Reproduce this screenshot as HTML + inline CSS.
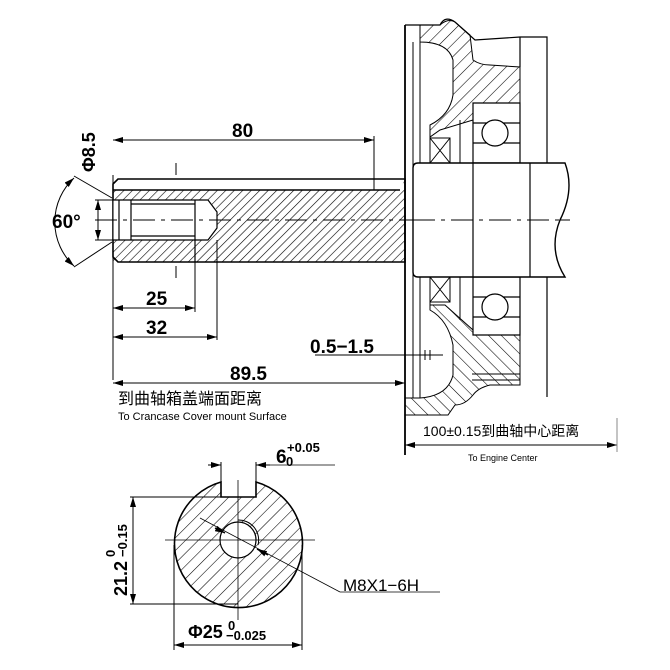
<!DOCTYPE html>
<html><head><meta charset="utf-8"><style>
html,body{margin:0;padding:0;background:#fff;}
svg{display:block;}
text{font-family:"Liberation Sans","Noto Sans CJK SC",sans-serif;fill:#000;}
</style></head><body>
<svg width="670" height="670" viewBox="0 0 670 670" xmlns="http://www.w3.org/2000/svg">
<defs>
<pattern id="h" width="6" height="6" patternUnits="userSpaceOnUse" patternTransform="rotate(45)">
<line x1="0" y1="0" x2="0" y2="6" stroke="#000" stroke-width="1.2"/></pattern>
<pattern id="h2" width="9" height="9" patternUnits="userSpaceOnUse" patternTransform="rotate(45)">
<line x1="0" y1="0" x2="0" y2="9" stroke="#000" stroke-width="1.1"/></pattern>
<pattern id="h3" width="9" height="9" patternUnits="userSpaceOnUse" patternTransform="rotate(-45)">
<line x1="0" y1="0" x2="0" y2="9" stroke="#000" stroke-width="1.1"/></pattern>
<marker id="a" viewBox="0 0 10 6" refX="10" refY="3" markerWidth="10" markerHeight="6" orient="auto-start-reverse" markerUnits="userSpaceOnUse"><path d="M0,0L10,3L0,6z" fill="#000"/></marker>
</defs>
<g stroke="#000" fill="none" stroke-width="1.2">
<path d="M118,179 L405,179 L405,262 L118,262 L113,257 L113,184 Z" fill="#fff" stroke-width="1.6"/>
<path d="M113,190 L400,190 L405,179 L405,262 L113,262 Z" fill="url(#h)" stroke="none"/>
<line x1="113" y1="190" x2="400" y2="190" stroke-width="1.4"/>
<path d="M113,200 L195,200 L195,240 L113,240 Z" fill="#fff" stroke="none"/>
<path d="M195,200 L208,200 L217,210 L217,230 L208,240 L195,240" fill="#fff" stroke="none"/>
<path d="M113,200 L208,200 L217,212 L217,228 L208,240 L113,240"/>
<path d="M119,200 V240 M131,200 V240 M131,204 H195 M131,236 H195 M195,200 V262"/>
<line x1="113" y1="175" x2="113" y2="380" stroke-width="1"/>
<line x1="95" y1="220" x2="570" y2="220" stroke-width="1" stroke-dasharray="22,6,4,6"/>
<line x1="176" y1="163" x2="176" y2="175" stroke-width="1"/>
<line x1="176" y1="266" x2="176" y2="278" stroke-width="1"/>
<line x1="113" y1="140" x2="374" y2="140" marker-start="url(#a)" marker-end="url(#a)" stroke-width="1"/>
<line x1="374" y1="136" x2="374" y2="190" stroke-width="1"/>
<line x1="195" y1="262" x2="195" y2="312" stroke-width="1"/>
<line x1="217" y1="240" x2="217" y2="340" stroke-width="1"/>
<line x1="113" y1="308" x2="195" y2="308" marker-start="url(#a)" marker-end="url(#a)" stroke-width="1"/>
<line x1="113" y1="337" x2="217" y2="337" marker-start="url(#a)" marker-end="url(#a)" stroke-width="1"/>
<line x1="113" y1="383" x2="405" y2="383" marker-start="url(#a)" marker-end="url(#a)" stroke-width="1"/>
<line x1="315" y1="355" x2="440" y2="355" stroke-width="1"/>
<line x1="98" y1="200" x2="98" y2="240" marker-start="url(#a)" marker-end="url(#a)" stroke-width="1"/>
<line x1="95" y1="200" x2="113" y2="200" stroke-width="1"/>
<line x1="95" y1="240" x2="113" y2="240" stroke-width="1"/>
<path d="M74,178 A60,60 0 0 0 74,266" marker-start="url(#a)" marker-end="url(#a)" stroke-width="1"/>
<line x1="74" y1="176" x2="112" y2="198" stroke-width="1"/>
<line x1="74" y1="267" x2="112" y2="242" stroke-width="1"/>
<line x1="405" y1="25" x2="405" y2="455" stroke-width="1.8"/>
<path d="M405,25 L440,25 Q445,15 455,22 L475,40 L520,37 L547,37 L547,180" />
<path d="M405,25 L440,25 Q448,18 455,22 L470,35 L473,60 Q480,65 490,65 L520,67 L520,103 L473,103 L473,120 L440,130 L430,137 L430,125 Q450,115 453,95 L453,60 Q448,42 420,42 L420,25 Z" fill="url(#h2)" stroke-width="1"/>
<path d="M405,398 L420,398 Q448,396 453,375 L453,345 Q448,320 430,310 L430,305 L445,305 L473,330 L473,335 L520,335 L520,385 L490,385 Q478,388 473,395 Q465,405 455,405 L448,415 L405,415 Z" fill="url(#h3)" stroke-width="1"/>
<path d="M420,42 V398 M430,125 V305 M413,42 V398" stroke-width="1"/>
<path d="M430,138 H450 V163 H430 Z M430,138 L450,163 M450,138 L430,163" stroke-width="1"/>
<path d="M430,277 H450 V302 H430 Z M430,277 L450,302 M450,277 L430,302" stroke-width="1"/>
<line x1="460" y1="120" x2="460" y2="163" stroke-width="1"/>
<line x1="460" y1="277" x2="460" y2="320" stroke-width="1"/>
<path d="M473,103 H520 V163 H473 Z M473,123 H520 M473,143 H520" fill="#fff"/>
<circle cx="495" cy="133" r="13" fill="#fff"/>
<path d="M473,277 H520 V335 H473 Z M473,297 H520 M473,317 H520" fill="#fff"/>
<circle cx="495" cy="307" r="13" fill="#fff"/>
<line x1="547" y1="277" x2="547" y2="397"/>
<line x1="520" y1="37" x2="520" y2="67"/>
<path d="M472,374 H520 M472,380 H520" stroke-width="1"/>
<path d="M418,163 H565 Q575,190 560,220 Q548,250 565,277 H418 Q413,277 413,272 V168 Q413,163 418,163 Z" fill="#fff" stroke-width="1.4"/>
<line x1="473" y1="163" x2="473" y2="277"/>
<line x1="530" y1="163" x2="530" y2="277"/>
<line x1="413" y1="220" x2="570" y2="220" stroke-width="1" stroke-dasharray="22,6,4,6"/>
<path d="M415,355 H443 M420,350 V360 M425,350 V360 M430,350 V360" stroke-width="1"/>
<line x1="405" y1="445" x2="617" y2="445" marker-start="url(#a)" marker-end="url(#a)" stroke-width="1"/>
<line x1="617" y1="418" x2="617" y2="452" stroke-width="1" stroke="#888"/>
<path d="M221,482 A64,64 0 1 0 256,482 L256,497 L221,497 Z" fill="url(#h2)" stroke-width="1.6"/>
<circle cx="238" cy="540" r="18" fill="#fff"/>
<path d="M238,520 A20,20 0 0 1 258,545" stroke-width="1"/>
<line x1="165" y1="540" x2="315" y2="540" stroke-width="0.8"/>
<line x1="238" y1="480" x2="238" y2="620" stroke-width="0.8"/>
<line x1="200" y1="518" x2="340" y2="592" stroke-width="0.8"/>
<line x1="340" y1="592" x2="440" y2="592" stroke-width="0.8"/>
<line x1="215" y1="528" x2="225" y2="533" marker-end="url(#a)" stroke-width="1.4"/>
<line x1="268" y1="555" x2="257" y2="549" marker-end="url(#a)" stroke-width="1.4"/>
<line x1="221" y1="462" x2="221" y2="482" stroke-width="1"/>
<line x1="256" y1="462" x2="256" y2="482" stroke-width="1"/>
<line x1="208" y1="465" x2="221" y2="465" marker-end="url(#a)" stroke-width="1"/>
<line x1="270" y1="465" x2="256" y2="465" marker-end="url(#a)" stroke-width="1"/>
<line x1="256" y1="465" x2="335" y2="465" stroke-width="0.8"/>
<line x1="130" y1="497" x2="221" y2="497" stroke-width="1"/>
<line x1="130" y1="604" x2="238" y2="604" stroke-width="1"/>
<line x1="133" y1="497" x2="133" y2="604" marker-start="url(#a)" marker-end="url(#a)" stroke-width="1"/>
<line x1="174" y1="545" x2="174" y2="650" stroke-width="1"/>
<line x1="302" y1="545" x2="302" y2="650" stroke-width="1"/>
<line x1="174" y1="645" x2="302" y2="645" marker-start="url(#a)" marker-end="url(#a)" stroke-width="1"/>
</g>
<g font-weight="bold">
<text x="232" y="137" font-size="19">80</text>
<text x="146" y="305" font-size="19">25</text>
<text x="146" y="334" font-size="19">32</text>
<text x="230" y="380" font-size="19">89.5</text>
<text x="310" y="353" font-size="19">0.5−1.5</text>
<text x="52" y="228" font-size="19">60°</text>
<text transform="translate(95,172) rotate(-90)" font-size="18">Φ8.5</text>
<text x="276" y="463" font-size="19">6</text>
<text x="287" y="452" font-size="13">+0.05</text>
<text x="286" y="466" font-size="13">0</text>
<text x="188" y="638" font-size="18">Φ25</text>
<text x="228" y="630" font-size="13">0</text>
<text x="226" y="640" font-size="13">−0.025</text>
<text transform="translate(127,596) rotate(-90)" font-size="18">21.2</text>
<text transform="translate(115,557) rotate(-90)" font-size="13">0</text>
<text transform="translate(127,557) rotate(-90)" font-size="13">−0.15</text>
</g>
<text x="343" y="591" font-size="17">M8X1−6H</text>
<text x="118" y="404" font-size="16">到曲轴箱盖端面距离</text>
<text x="118" y="420" font-size="11">To Crancase Cover mount Surface</text>
<text x="423" y="436" font-size="14">100±0.15到曲轴中心距离</text>
<text x="468" y="461" font-size="9">To Engine Center</text>
</svg>
</body></html>
